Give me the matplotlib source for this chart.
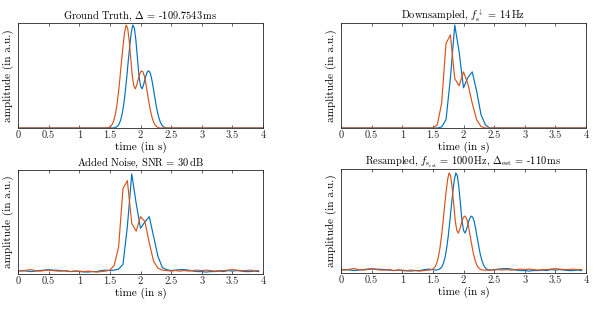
import numpy as np
import matplotlib
matplotlib.use("Agg")
import matplotlib.pyplot as plt

plt.rcParams["font.family"] = "serif"
plt.rcParams["font.serif"] = ["cmr10"]
plt.rcParams["mathtext.fontset"] = "cm"
plt.rcParams["axes.formatter.use_mathtext"] = True

BLUE = "#0072BD"
ORANGE = "#D95319"

# --- ground truth (smooth), sampled every 25 ms over the pulse
gt_t = np.round(np.arange(1.55, 2.4501, 0.025), 3)
gt_amp = [0.000, 0.003, 0.008, 0.018, 0.038, 0.075, 0.135, 0.225, 0.345, 0.49,
          0.65, 0.80, 0.93, 1.00, 0.97, 0.85, 0.68, 0.51, 0.41, 0.38,
          0.42, 0.48, 0.53, 0.555, 0.545, 0.50, 0.42, 0.33, 0.24, 0.16,
          0.10, 0.055, 0.028, 0.012, 0.004, 0.001, 0.000]
delta_true = -0.1097543

# --- downsampled, fs = 14 Hz (samples k/14), non-zero part k = 21..34
fs_down = 14
n_down = 57
k_start = 21
ds_blue = [0, 0, 0.01, 0.08, 0.48, 1.0, 0.74, 0.39, 0.49, 0.545, 0.36, 0.13, 0.03, 0]
ds_orange = [0, 0.03, 0.24, 0.82, 0.905, 0.48, 0.41, 0.545, 0.43, 0.24, 0.08, 0.015, 0, 0]

# --- added noise (SNR = 30 dB), samples k = 0..55
noise_blue_left = [0.00, 0.005, 0.0, -0.005, 0.0, 0.005, 0.01, 0.015, 0.01, 0.008,
                   0.005, 0.0, -0.005, 0.0, -0.005, -0.008, -0.01, -0.005, -0.005, 0.005, 0.01]
noise_blue_pulse = [0.005, 0.01, 0.02, 0.07, 0.46, 1.0, 0.70, 0.44, 0.505, 0.56,
                    0.355, 0.15, 0.035, 0.015]
noise_blue_right = [0.005, 0.01, 0.015, 0.015, 0.01, 0.0, -0.005, -0.005, -0.01, -0.005,
                    -0.005, 0.0, -0.005, 0.005, 0.0, 0.005, 0.0, -0.005, -0.005, 0.0, -0.005]
noise_orange_left = [0.005, 0.0, 0.01, 0.015, 0.005, 0.0, 0.005, 0.01, 0.005, 0.0,
                     0.0, 0.005, -0.005, 0.0, 0.0, -0.005, 0.0, -0.005, -0.01, -0.005, 0.0]
noise_orange_pulse = [0.01, 0.06, 0.25, 0.85, 0.93, 0.49, 0.41, 0.56, 0.51, 0.29,
                      0.10, 0.03, 0.01, 0.005]
noise_orange_right = [0.0, 0.005, 0.0, 0.005, 0.0, 0.005, 0.01, 0.005, 0.01, 0.005,
                      0.0, 0.005, 0.005, 0.01, 0.015, 0.01, 0.005, 0.005, 0.01, 0.005, 0.005]

# --- resampled to 1000 Hz, estimated delay
delta_est = -0.110

xticks = [0, 0.5, 1, 1.5, 2, 2.5, 3, 3.5, 4]
xticklabels = ["0", "0.5", "1", "1.5", "2", "2.5", "3", "3.5", "4"]

titles = [
    r"Ground Truth, $\Delta$ = -109.7543$\,$ms",
    r"Downsampled, $f_\mathrm{s}^{\downarrow}$ = 14$\,$Hz",
    r"Added Noise, SNR = 30$\,$dB",
    r"Resampled, $f_{\mathrm{s}_\mathrm{est}}$ = 1000$\,$Hz, $\Delta_\mathrm{est}$ = -110$\,$ms",
]

# build series
gt_tb = np.concatenate([[0], gt_t, [4]])
gt_to = np.concatenate([[0], gt_t + delta_true, [4]])
gt_y = np.concatenate([[0], gt_amp, [0]])

t_down = np.arange(n_down) / fs_down
down_b = np.zeros(n_down)
down_o = np.zeros(n_down)
down_b[k_start:k_start + len(ds_blue)] = ds_blue
down_o[k_start:k_start + len(ds_orange)] = ds_orange

noise_b = np.concatenate([noise_blue_left, noise_blue_pulse, noise_blue_right])
noise_o = np.concatenate([noise_orange_left, noise_orange_pulse, noise_orange_right])
t_noise = np.arange(len(noise_b)) / fs_down

left_t = t_noise[:len(noise_blue_left)]
right_t = t_noise[len(noise_blue_left) + len(noise_blue_pulse):]
rs_tb = np.concatenate([left_t, gt_t, right_t])
rs_yb = np.concatenate([noise_blue_left, gt_amp, noise_blue_right])
rs_to = np.concatenate([left_t, gt_t + delta_est, right_t])
rs_yo = np.concatenate([noise_orange_left, gt_amp, noise_orange_right])

fig = plt.figure(figsize=(5.98, 3.09), dpi=100)
W, H = 598, 309
boxes = [(18, 23, 263, 128), (341, 23, 586, 128), (18, 170, 263, 274), (341, 169, 586, 273)]
axes = [fig.add_axes([l / W, 1 - b / H, (r - l) / W, (b - t) / H]) for l, t, r, b in boxes]

series = [
    (gt_tb, gt_y, gt_to, gt_y, (0, 1.02)),
    (t_down, down_b, t_down, down_o, (0, 1.02)),
    (t_noise, noise_b, t_noise, noise_o, (-0.03, 1.04)),
    (rs_tb, rs_yb, rs_to, rs_yo, (-0.03, 1.04)),
]

for ax, (tb, yb, to, yo, ylim), title in zip(axes, series, titles):
    ax.plot(tb, yb, color=BLUE, lw=0.85)
    ax.plot(to, yo, color=ORANGE, lw=0.85)
    ax.set_xlim(0, 4)
    ax.set_ylim(*ylim)
    ax.set_xticks(xticks)
    ax.set_xticklabels(xticklabels)
    ax.set_yticks([])
    ax.tick_params(axis="x", direction="in", top=True, length=2.5, width=0.5,
                   labelsize=7.5, pad=2, colors="#262626")
    for s in ax.spines.values():
        s.set_linewidth(0.6)
        s.set_color("#262626")
    ax.set_title(title, fontsize=7.5, pad=3)
    ax.set_xlabel("time (in s)", fontsize=8, labelpad=1)
    ax.set_ylabel("amplitude (in a.u.)", fontsize=8, labelpad=3)

fig.savefig("out.png", dpi=100)
